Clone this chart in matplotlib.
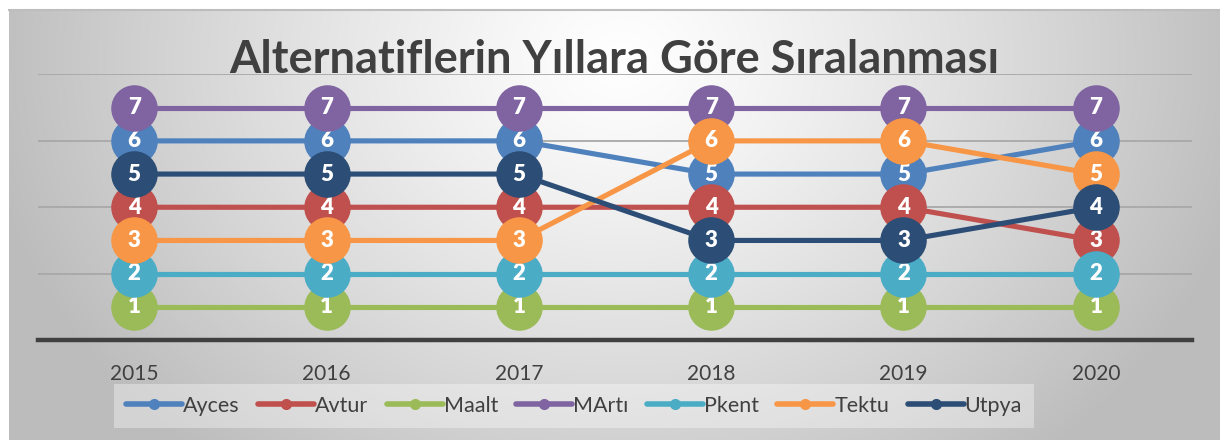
import numpy as np
import matplotlib
matplotlib.use("Agg")
import matplotlib.pyplot as plt
from matplotlib.lines import Line2D

years = ["2015", "2016", "2017", "2018", "2019", "2020"]
series_names = ["Ayces", "Avtur", "Maalt", "MArtı", "Pkent", "Tektu", "Utpya"]
ayces = [6, 6, 6, 5, 5, 6]
avtur = [4, 4, 4, 4, 4, 3]
maalt = [1, 1, 1, 1, 1, 1]
marti = [7, 7, 7, 7, 7, 7]
pkent = [2, 2, 2, 2, 2, 2]
tektu = [3, 3, 3, 6, 6, 5]
utpya = [5, 5, 5, 3, 3, 4]
series_values = [ayces, avtur, maalt, marti, pkent, tektu, utpya]
colors = ["#4F81BD", "#C0504D", "#9BBB59", "#8064A2", "#4BACC6", "#F79646", "#2C4D75"]
title = "Alternatiflerin Yıllara Göre Sıralanması"

plt.rcParams['font.family'] = ['Lato', 'DejaVu Sans']

W, H = 1220, 440
fig = plt.figure(figsize=(W / 100, H / 100), dpi=100)
fig.patch.set_facecolor("white")

# background gradient panel
bx0, by0, bx1, by1 = 9, 10, 1220, 440
bg = fig.add_axes([bx0 / W, 1 - by1 / H, (bx1 - bx0) / W, (by1 - by0) / H])
bg.set_axis_off()
nx, ny = bx1 - bx0, by1 - by0
xx, yy = np.meshgrid(np.arange(nx), np.arange(ny))
cx, cy = 620 - bx0, 60 - by0
r = np.sqrt(((xx - cx) / 640.0) ** 2 + ((yy - cy) / 520.0) ** 2)
r = np.clip(r, 0, 1)
val = 1.0 - 0.26 * r ** 1.2
img = np.dstack([val, val, val])
bg.imshow(img, aspect="auto", extent=(0, 1, 0, 1), origin="upper")
bg.set_xlim(0, 1)
bg.set_ylim(0, 1)
bg.plot([0, 1], [1, 1], color="#bdbdbd", lw=1.5, transform=bg.transAxes, clip_on=False)

# main axes
ax = fig.add_axes([38 / W, (H - 340) / H, 1154 / W, 265.5 / H])
ax.patch.set_alpha(0)
x = np.arange(len(years))
ax.set_xlim(-0.5, len(years) - 0.5)
ax.set_ylim(0, 8)
ax.set_yticks([2, 4, 6, 8])
ax.yaxis.grid(True, color="#a8a8a8", lw=1.3)
ax.set_axisbelow(True)
ax.tick_params(axis="y", left=False, labelleft=False)
ax.set_xticks(x)
ax.set_xticklabels(years, fontsize=15, color="#404040")
ax.tick_params(axis="x", length=0, pad=17)
for s in ["top", "right", "left"]:
    ax.spines[s].set_visible(False)
ax.spines["bottom"].set_color("#404040")
ax.spines["bottom"].set_linewidth(3.2)

for i, (name, vals, c) in enumerate(zip(series_names, series_values, colors)):
    z = 3 + i * 2
    ax.plot(x, vals, color=c, lw=3.7, marker="o", markersize=32.5,
            markerfacecolor=c, markeredgecolor=c, zorder=z, clip_on=False)
    for xi, v in zip(x, vals):
        ax.text(xi, v, str(v), color="white", fontsize=16, fontweight="heavy",
                ha="center", va="center", zorder=z + 1)

fig.text(614 / W, 1 - 60 / H, title, fontsize=32.5, fontweight="bold",
         color="#404040", ha="center", va="center", zorder=20)

handles = [Line2D([0], [0], color=c, lw=4, marker="o", markersize=7,
                  markerfacecolor=c, markeredgecolor=c, solid_capstyle="round")
           for c in colors]
leg = fig.legend(handles, series_names, loc="center", ncol=7,
                 bbox_to_anchor=(574 / W, 1 - 406 / H), fontsize=15.5,
                 frameon=True, handlelength=2.6, handletextpad=0.05,
                 columnspacing=0.85, borderpad=0.55)
leg.get_frame().set_facecolor("white")
leg.get_frame().set_alpha(0.35)
leg.get_frame().set_edgecolor("none")
leg.get_frame().set_boxstyle("square", pad=0)
for t in leg.get_texts():
    t.set_color("#404040")

fig.savefig("out.png", dpi=100)
